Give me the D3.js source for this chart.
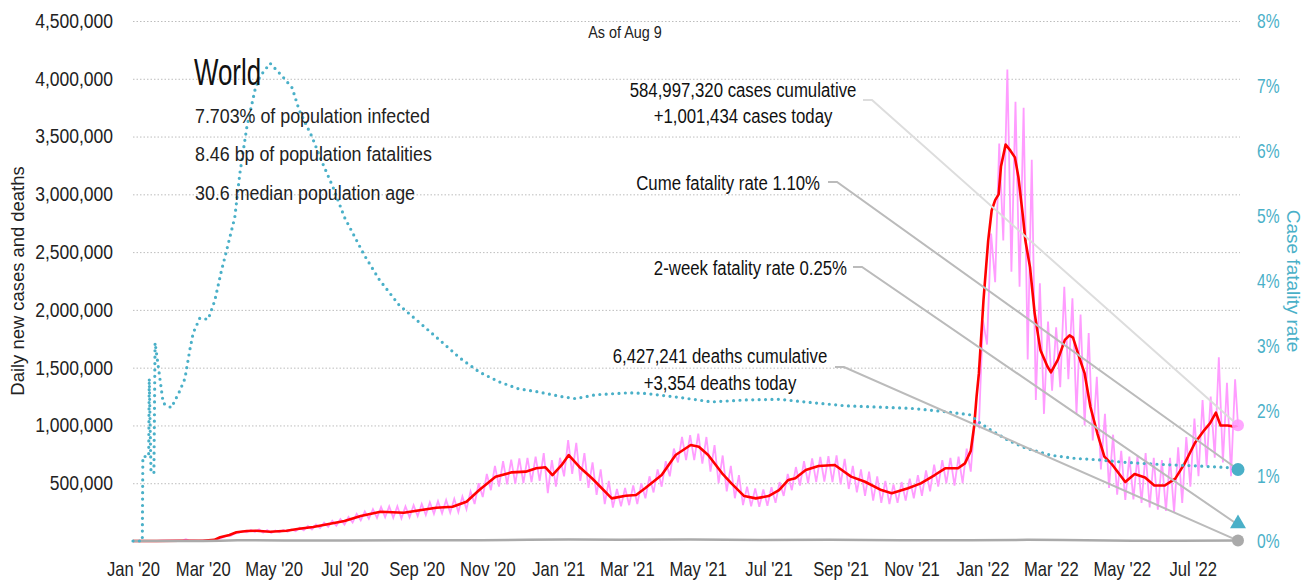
<!DOCTYPE html>
<html lang="en">
<head>
  <meta charset="UTF-8">
  <title>World daily cases and fatality rate</title>
  <style>
    body { margin: 0; background: #fff; }
    svg { display: block; font-family: "Liberation Sans", Arial, sans-serif; }
    .grid line { stroke: #bdbdbd; stroke-width: 1; stroke-dasharray: 1.5,2; }
    .grid .domain { display: none; }
  </style>
</head>
<body>

<svg id="chart" width="1314" height="580"></svg>

<script src="https://d3js.org/d3.v7.min.js"></script>
<script>

// days counted from 1 Jan 2020
// 7-day average of new cases (thousands)
const avgDay = [0, 20, 40, 60, 70, 75, 83, 89, 98, 106, 118, 132, 143, 155, 182, 196, 213, 233, 261, 275,
  287, 298, 312, 326, 338, 347, 355, 361, 369, 375, 384, 395, 412, 424, 433, 441, 455, 467, 480, 487,
  495, 507, 515, 526, 536, 547, 556, 564, 570, 579, 590, 604, 610, 618, 630, 644, 653, 667, 678, 690,
  699, 710, 716, 721, 724, 726, 728, 732, 736, 739, 742, 745, 747, 751, 755, 759, 762, 766, 768, 772,
  776, 781, 787, 790, 796, 802, 806, 809, 815, 819, 824, 830, 836, 842, 848, 854, 862, 871, 879, 888,
  897, 905, 914, 922, 927, 932, 936, 942, 948, 951];
const avgCases = [0, 0.5, 2, 2, 10, 32, 52, 75, 86, 89, 80, 89, 106, 121, 173, 216, 253, 245, 288, 297,
  340, 441, 557, 594, 600, 629, 638, 571, 658, 744, 643, 543, 369, 392, 398, 459, 571, 744, 831, 816,
  744, 586, 499, 389, 369, 389, 441, 528, 543, 614, 649, 658, 614, 557, 513, 441, 413, 456, 499, 571,
  629, 629, 672, 780, 1000, 1250, 1450, 2090, 2600, 2860, 2950, 3000, 3240, 3430, 3380, 3320, 3150, 2800, 2600, 2370,
  1970, 1650, 1510, 1460, 1570, 1740, 1780, 1760, 1570, 1450, 1160, 930, 730, 670, 590, 510, 580, 550, 480, 480,
  540, 670, 850, 960, 1020, 1110, 1000, 1000, 990, 1001.434];

// daily new cases, weekly trough and peak (thousands), week w starts on day 7w
const pinkLow = [0, 0, 0, 1, 2, 3, 2, 2, 1, 2,
  8, 28, 45, 70, 75, 78, 72, 70, 75, 80,
  85, 92, 100, 112, 122, 132, 142, 160, 178, 192,
  200, 205, 200, 195, 205, 215, 225, 235, 240, 245,
  250, 275, 320, 380, 440, 470, 490, 495, 500, 510,
  520, 415, 470, 560, 580, 520, 460, 400, 320, 290,
  300, 310, 320, 370, 420, 470, 560, 680, 700, 700,
  670, 600, 500, 430, 370, 310, 300, 295, 305, 330,
  390, 440, 480, 500, 510, 515, 510, 490, 450, 420,
  390, 350, 330, 320, 330, 350, 370, 390, 430, 470,
  500, 480, 500, 600, 990, 1700, 2240, 2600, 2330, 2200,
  1570, 1220, 1100, 1300, 1330, 1400, 1100, 1000, 870, 620,
  460, 400, 355, 360, 330, 290, 270, 260, 245, 330,
  470, 560, 650, 720, 680, 560];
const pinkHigh = [0, 0, 1, 2, 4, 4, 15, 3, 3, 6,
  16, 45, 65, 85, 95, 100, 95, 90, 95, 100,
  115, 130, 142, 158, 175, 190, 208, 235, 255, 275,
  295, 300, 300, 300, 310, 320, 335, 345, 355, 365,
  385, 430, 500, 580, 650, 690, 705, 715, 720, 730,
  760, 700, 720, 874, 850, 760, 680, 620, 520, 450,
  460, 480, 500, 560, 620, 690, 800, 900, 917, 930,
  900, 830, 740, 650, 570, 470, 455, 445, 465, 510,
  580, 640, 690, 715, 727, 735, 740, 710, 650, 620,
  600, 560, 520, 490, 510, 540, 570, 610, 660, 700,
  720, 730, 800, 1050, 1910, 2660, 3440, 4080, 3800, 3750,
  3300, 2230, 1900, 1850, 2200, 2100, 1960, 1800, 1420, 1100,
  920, 780, 730, 740, 760, 720, 700, 720, 810, 900,
  1060, 1220, 1250, 1590, 1370, 1400];

// daily deaths, 7-day average (thousands)
const deathDay = [0, 30, 60, 75, 90, 105, 130, 180, 240, 300, 340, 375, 420, 480, 540, 600, 660, 720, 770, 800, 860, 900, 951];
const deaths = [0, 0.5, 1, 3, 6, 7, 5, 5, 6, 6, 11, 14, 10, 12, 8, 10, 7, 7, 10, 9, 2, 1.5, 3.354];

// cumulative case fatality rate (%)
const cfrDay = [0, 8, 8.5, 13.5, 14, 15.5, 18, 19, 21.8, 26, 33, 40, 44.7, 49, 51.8, 57.5, 64.7, 70.4, 76, 80,
  87.6, 92, 98, 105, 109, 118, 129, 137, 143, 154, 162, 172, 182, 199, 212, 229, 246, 264, 281, 298,
  315, 332, 347, 369, 381, 398, 427, 441, 470, 498, 527, 556, 584, 613, 641, 670, 699, 721, 727, 738,
  753, 768, 790, 811, 830, 854, 882, 910, 942, 951];
const cfr = [0, 0, 1.3, 1.3, 2.5, 1.05, 1.05, 3.05, 2.68, 2.12, 2.05, 2.3, 2.5, 2.95, 3.2, 3.43, 3.41, 3.7, 4.15, 4.43,
  4.98, 5.66, 6.37, 6.94, 7.14, 7.35, 7.14, 6.97, 6.63, 6.22, 5.86, 5.45, 4.98, 4.4, 4.02, 3.63, 3.37, 3.09, 2.82, 2.6,
  2.45, 2.34, 2.30, 2.22, 2.19, 2.25, 2.28, 2.27, 2.21, 2.14, 2.17, 2.18, 2.13, 2.08, 2.06, 2.04, 1.99, 1.94, 1.84, 1.71,
  1.55, 1.43, 1.32, 1.27, 1.25, 1.21, 1.18, 1.16, 1.13, 1.10];

const leftTicks = [500000, 1000000, 1500000, 2000000, 2500000, 3000000, 3500000, 4000000, 4500000];
const rightTicks = [0, 1, 2, 3, 4, 5, 6, 7, 8];

const country = "World";
const stats = ["7.703% of population infected", "8.46 bp of population fatalities", "30.6 median population age"];
const asOf = "As of Aug 9";
const casesCume = "584,997,320", casesToday = 1001434;
const deathsCume = "6,427,241", deathsToday = 3354;
const cumeRate = 1.10, twoWeekRate = 0.25;

// colours
const pink = "#ff9cff", red = "#ff0000", cyan = "#4ab0c8", grey = "#aaaaaa";

let svg = d3.select("#chart");
let mLeft = 133, mRight = 1238, mTop = 21, mBottom = 541;

let t0 = new Date(2020, 0, 1);
let day = d => new Date(t0.getTime() + d * 864e5);

let x = d3.scaleTime().domain([t0, day(951)]).range([mLeft, mRight]);
let y = d3.scaleLinear().domain([0, 4500000]).range([mBottom, mTop]);
let yr = d3.scaleLinear().domain([0, 8]).range([mBottom, mTop]);

// the original uses a condensed face, so squeeze text horizontally
function label(str, px, py, size, sx, anchor, fill, rot) {
  return svg.append("text")
      .attr("transform", "translate(" + px + "," + py + ")" + (rot ? " rotate(" + rot + ")" : "") + " scale(" + sx + ",1)")
      .attr("text-anchor", anchor || "start")
      .attr("font-size", size)
      .attr("fill", fill || "#111")
      .text(str);
}

function squeeze(g, size, sx, fill) {
  g.select(".domain").remove();
  g.attr("font-family", null).attr("font-size", null);
  g.selectAll("text").each(function() {
    let t = d3.select(this);
    let tx = +t.attr("x") || 0;
    t.attr("x", tx / sx).attr("transform", "scale(" + sx + ",1)")
        .attr("font-size", size).attr("fill", fill);
  });
}

// gridlines
svg.append("g")
    .attr("class", "grid")
    .attr("transform", "translate(" + mLeft + ",0)")
    .call(d3.axisLeft(y).tickValues(leftTicks).tickSize(-(mRight - mLeft + 2)).tickFormat(""));

// left axis labels
svg.append("g")
    .attr("transform", "translate(" + mLeft + ",0)")
    .call(d3.axisLeft(y).tickValues(leftTicks).tickSize(0).tickPadding(20).tickFormat(d3.format(",")))
    .call(g => squeeze(g, 20, 0.875, "#222"));

// right axis labels
svg.append("g")
    .attr("transform", "translate(" + mRight + ",0)")
    .call(d3.axisRight(yr).tickValues(rightTicks).tickSize(0).tickPadding(19).tickFormat(d => d + "%"))
    .call(g => squeeze(g, 20, 0.78, cyan));

// x axis labels
svg.append("g")
    .attr("transform", "translate(0," + mBottom + ")")
    .call(d3.axisBottom(x).ticks(d3.timeMonth.every(2)).tickSize(0).tickPadding(21).tickFormat(d3.timeFormat("%b '%y")))
    .call(g => squeeze(g, 20, 0.83, "#222"));

// axis titles
label("Daily new cases and deaths", 24, (mTop + mBottom) / 2, 19, 0.97, "middle", "#222", -90);
label("Case fatality rate", 1287, (mTop + mBottom) / 2, 19, 1, "middle", cyan, 90);

// daily cases zigzag
let daily = [];
pinkLow.forEach((v, w) => {
  daily.push([7 * w, v]);
  daily.push([7 * w + 3.5, pinkHigh[w]]);
});
daily.push([951, casesToday / 1000]);

let lineK = d3.line().x(d => x(day(d[0]))).y(d => y(d[1] * 1000));

svg.append("path")
    .datum(daily)
    .attr("d", lineK)
    .attr("fill", "none")
    .attr("stroke", pink)
    .attr("stroke-width", 1.8);

svg.append("path")
    .datum(avgDay.map((d, i) => [d, avgCases[i]]))
    .attr("d", lineK)
    .attr("fill", "none")
    .attr("stroke", red)
    .attr("stroke-width", 2.6)
    .attr("stroke-linejoin", "round");

svg.append("path")
    .datum(deathDay.map((d, i) => [d, deaths[i]]))
    .attr("d", lineK)
    .attr("fill", "none")
    .attr("stroke", grey)
    .attr("stroke-width", 2.5);

svg.append("path")
    .datum(cfrDay.map((d, i) => [d, cfr[i]]))
    .attr("d", d3.line().x(d => x(day(d[0]))).y(d => yr(d[1])))
    .attr("fill", "none")
    .attr("stroke", cyan)
    .attr("stroke-width", 3.2)
    .attr("stroke-linecap", "round")
    .attr("stroke-dasharray", "0,6.4");

// header text
label(asOf, 625, 38, 16, 0.9, "middle", "#222");
label(country, 194, 85, 37, 0.7, "start", "#111");
stats.forEach((s, i) => label(s, 195, 122.5 + i * 38.5, 20.5, 0.87, "start", "#222"));

// annotations with leader lines to the end markers
let endX = x(day(951));
let notes = [
  {lines: [casesCume + " cases cumulative", "+" + d3.format(",")(casesToday) + " cases today"],
   tx: 743, anchor: "middle", ty: 96.5, lx: 863, ly: 100, to: y(casesToday), col: "#dddddd"},
  {lines: ["Cume fatality rate " + cumeRate.toFixed(2) + "%"],
   tx: 820, anchor: "end", ty: 190, lx: 828, ly: 182, to: yr(cumeRate), col: "#bbbbbb"},
  {lines: ["2-week fatality rate " + twoWeekRate.toFixed(2) + "%"],
   tx: 847, anchor: "end", ty: 275, lx: 853, ly: 267, to: yr(twoWeekRate), col: "#bbbbbb"},
  {lines: [deathsCume + " deaths cumulative", "+" + d3.format(",")(deathsToday) + " deaths today"],
   tx: 720, anchor: "middle", ty: 363, lx: 835, ly: 367, to: y(deathsToday), col: "#bbbbbb"}
];

notes.forEach(n => {
  n.lines.forEach((s, i) => label(s, n.tx, n.ty + i * 26.8, 21, 0.8, n.anchor, "#111"));
  svg.append("path")
      .attr("d", d3.line()([[n.lx, n.ly], [n.lx + 9, n.ly], [endX, n.to]]))
      .attr("fill", "none")
      .attr("stroke", n.col)
      .attr("stroke-width", 2);
});

// end markers
svg.append("circle").attr("cx", endX).attr("cy", y(casesToday)).attr("r", 6)
    .attr("fill", pink).attr("fill-opacity", 0.9);
svg.append("circle").attr("cx", endX).attr("cy", yr(cumeRate)).attr("r", 6.5).attr("fill", cyan);
svg.append("path")
    .attr("d", d3.symbol(d3.symbolTriangle, 110)())
    .attr("transform", "translate(" + endX + "," + (yr(twoWeekRate) - 1) + ")")
    .attr("fill", cyan);
svg.append("circle").attr("cx", endX).attr("cy", y(deathsToday)).attr("r", 6).attr("fill", grey);

</script>
</body>
</html>
